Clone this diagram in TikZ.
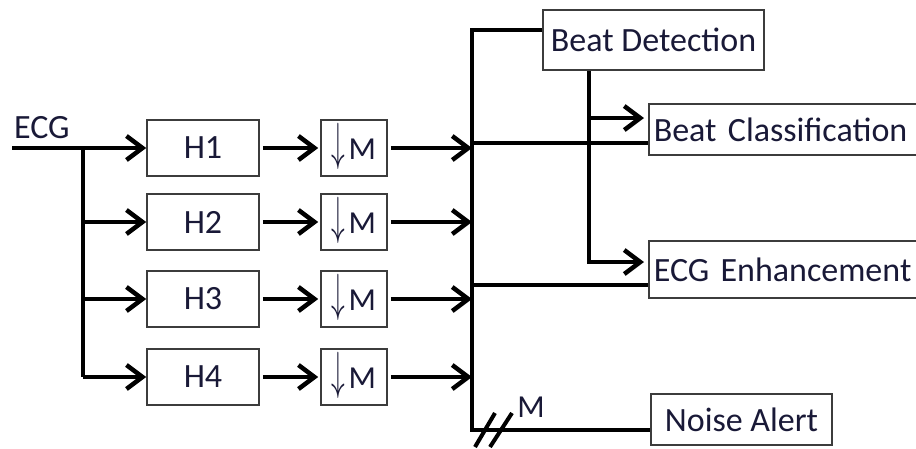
\documentclass[tikz,border=0pt]{standalone}
\usepackage{fontspec}
\setmainfont{Carlito}
\usepackage{graphicx}
\usepackage{xcolor}
\definecolor{boxgray}{RGB}{60,60,60}
\definecolor{txtnavy}{RGB}{25,25,55}
\usetikzlibrary{arrows.meta, positioning, calc}

\tikzset{
  blockbox/.style={draw=boxgray, line width=1.6pt, minimum height=56pt, inner sep=2pt,
                   font=\fontsize{34}{38}\selectfont, text=txtnavy},
  filterbox/.style={blockbox, minimum width=112pt},
  downbox/.style={blockbox, minimum width=66pt, inner sep=1pt, font=\fontsize{32}{36}\selectfont},
  outbox/.style={blockbox, anchor=west, text width=275pt, align=left, inner xsep=5pt},
  wire/.style={line width=4.5pt},
  flow/.style={wire, -{Straight Barb[length=16pt, width=24pt]}},
}
\newcommand{\downM}{\raisebox{0pt}[22pt][0pt]{\scalebox{1.1}[2.1]{$\downarrow$}}\hspace{3pt}M}

\begin{document}
\begin{tikzpicture}[x=1pt, y=-1pt]
  \useasboundingbox (0,0) rectangle (916,448);
  \clip (0,0) rectangle (916,448);

  % input signal
  \node[font=\fontsize{34}{38}\selectfont, text=txtnavy, anchor=base west, inner sep=0pt]
       (ecg) at (14,138) {ECG};
  \coordinate (in) at (12,148);
  \coordinate (split) at (83,148);

  % filter bank and downsamplers
  \foreach \i/\y in {1/148, 2/222, 3/299, 4/377} {
    \node[filterbox] (H\i) at (203,\y) {H\i};
    \node[downbox] (M\i) at (354,\y) {\downM};
  }

  % bus
  \coordinate (bustop) at (472,30);
  \coordinate (busbot) at (472,430);
  \coordinate (busBC) at (472,143);
  \coordinate (busEE) at (472,285);

  % output blocks
  \node[blockbox, minimum width=221pt, minimum height=60pt] (detect) at (653.5,40) {Beat Detection};
  \node[outbox, minimum height=51pt] (classify) at (648,129.5) {Beat Classification};
  \node[outbox, minimum height=57pt] (enhance) at (648,269.5) {ECG Enhancement};
  \node[blockbox, minimum width=181pt, minimum height=51pt] (alert) at (741.5,419.5) {Noise Alert};
  \coordinate (tapBC) at (589,118);
  \coordinate (tapEE) at (589,262);

  % connectors
  \draw[flow] (in) -- (H1.west);
  \draw[wire] (split) -- (split |- H4.west);
  \foreach \i in {2,3,4}
    \draw[flow] (split |- H\i.west) -- (H\i.west);
  \foreach \i in {1,...,4} {
    \draw[flow, shorten <=3pt, shorten >=2pt] (H\i.east) -- (M\i.west);
    \draw[flow, shorten <=3pt] (M\i.east) -- (M\i.east -| bustop);
  }
  \draw[wire] (bustop -| detect.west) -- (bustop) -- (busbot) -- (busbot -| alert.west);
  \draw[wire] (busBC) -- (busBC -| classify.west);
  \draw[wire] (busEE) -- (busEE -| enhance.west);
  \draw[flow, shorten >=4pt] (tapBC |- detect.south) -- (tapEE) -- (tapEE -| enhance.west);
  \draw[flow, shorten >=4pt] (tapBC) -- (tapBC -| classify.west);

  % M-fold marker
  \draw[line width=4pt] ([shift={(3,17)}]busbot) -- ([shift={(23,-17)}]busbot);
  \draw[line width=4pt] ([shift={(18,17)}]busbot) -- ([shift={(40,-17)}]busbot);
  \node[font=\fontsize{32}{36}\selectfont, text=txtnavy] (mlab) at (531,407) {M};
\end{tikzpicture}
\end{document}
